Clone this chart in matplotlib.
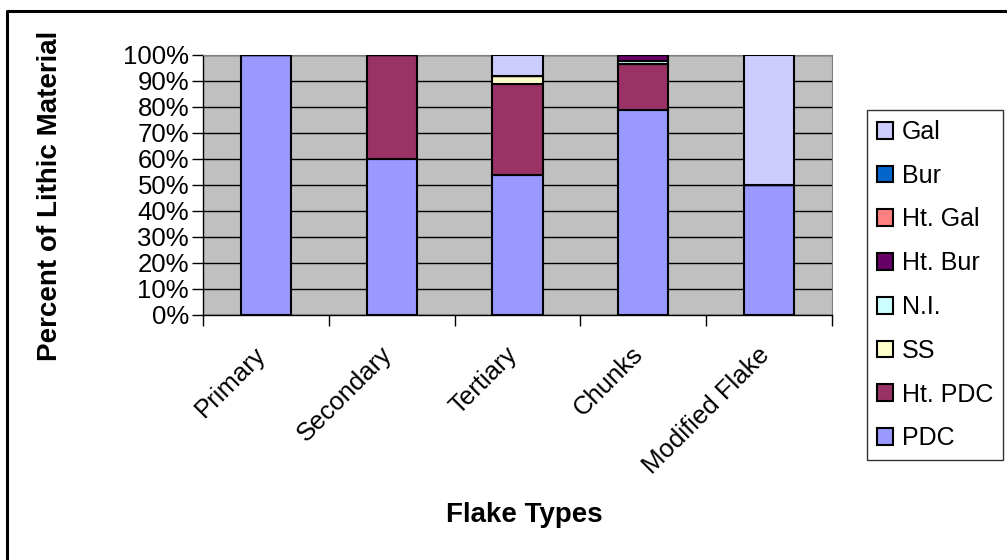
import numpy as np
import matplotlib
matplotlib.use('Agg')
import matplotlib.pyplot as plt
import matplotlib.transforms as mtransforms
from matplotlib.lines import Line2D

plt.rcParams['font.family'] = ['Liberation Sans', 'DejaVu Sans']

# data (percent of lithic material)
categories = ['Primary', 'Secondary', 'Tertiary', 'Chunks', 'Modified Flake']
series = ['PDC', 'Ht. PDC', 'SS', 'N.I.', 'Ht. Bur', 'Ht. Gal', 'Bur', 'Gal']
pdc = [100, 60, 54, 78.8, 50]
ht_pdc = [0, 40, 34.7, 17.6, 0]
ss = [0, 0, 3.2, 0, 0]
ni = [0, 0, 0, 1.3, 0]
ht_bur = [0, 0, 0, 2.3, 0]
ht_gal = [0, 0, 0, 0, 0]
bur = [0, 0, 0, 0, 0]
gal = [0, 0, 8.1, 0, 50]
colors = ['#9999FF', '#993366', '#FFFFCC', '#CCFFFF', '#660066', '#FF8080', '#0066CC', '#CCCCFF']

values = [pdc, ht_pdc, ss, ni, ht_bur, ht_gal, bur, gal]

fig = plt.figure(figsize=(10.07, 5.6), dpi=100)
ax = fig.add_axes([203 / 1007, 1 - 315 / 560, 629 / 1007, 260 / 560])
ax.set_facecolor('#C0C0C0')

x = np.arange(len(categories))
bottom = np.zeros(len(categories))
handles = []
for name, vals, c in zip(series, values, colors):
    vals = np.array(vals, dtype=float)
    b = ax.bar(x, vals, 0.4, bottom=bottom, color=c, edgecolor='black',
               linewidth=1.5, label=name, zorder=3)
    handles.append(b)
    bottom += vals

ax.set_xlim(-0.5, len(categories) - 0.5)
ax.set_ylim(0, 100)
ax.set_yticks(np.arange(0, 101, 10))
ax.set_yticklabels([f'{v}%' for v in range(0, 101, 10)], fontsize=18.5)
ax.yaxis.grid(True, color='black', linewidth=1, zorder=1)
ax.set_axisbelow(True)
ax.tick_params(axis='y', length=8, width=1, direction='out', pad=2)

ax.set_xticks(x)
ax.set_xticklabels(categories, rotation=45, ha='right', rotation_mode='anchor',
                   fontsize=18.5)
ax.set_xticks(np.arange(-0.5, len(categories)), minor=True)
ax.tick_params(axis='x', which='major', length=0, pad=14)
ax.tick_params(axis='x', which='minor', length=8, width=1, direction='out')
# shift rotated labels a bit left/down like the original
shift = mtransforms.ScaledTranslation(-0.12, -0.08, fig.dpi_scale_trans)
for lab in ax.get_xticklabels():
    lab.set_transform(lab.get_transform() + shift)

for s in ['top', 'right']:
    ax.spines[s].set_color('#808080')
for s in ['left', 'bottom']:
    ax.spines[s].set_color('black')
    ax.spines[s].set_linewidth(1)

# axis titles
fig.text(524 / 1007, 1 - 515 / 560, 'Flake Types', fontsize=20, fontweight='bold',
         ha='center', va='center')
fig.text(50 / 1007, 1 - 196 / 560, 'Percent of Lithic Material', fontsize=20,
         fontweight='bold', rotation=90, ha='center', va='center')

leg = fig.legend(handles[::-1], series[::-1], loc='upper left',
                 bbox_to_anchor=(867 / 1007, 1 - 110 / 560),
                 fontsize=18, frameon=True, fancybox=False,
                 handlelength=0.65, handleheight=0.65, handletextpad=0.35,
                 labelspacing=0.79, borderpad=0.4, borderaxespad=0)
leg.get_frame().set_edgecolor('black')
leg.get_frame().set_linewidth(1)

# outer chart border (clipped at the right and bottom)
fig.add_artist(Line2D([7 / 1007, 7 / 1007, 1.0], [0, 1 - 11 / 560, 1 - 11 / 560],
                      color='black', linewidth=2.2, transform=fig.transFigure))

fig.savefig('out.png', dpi=100)
